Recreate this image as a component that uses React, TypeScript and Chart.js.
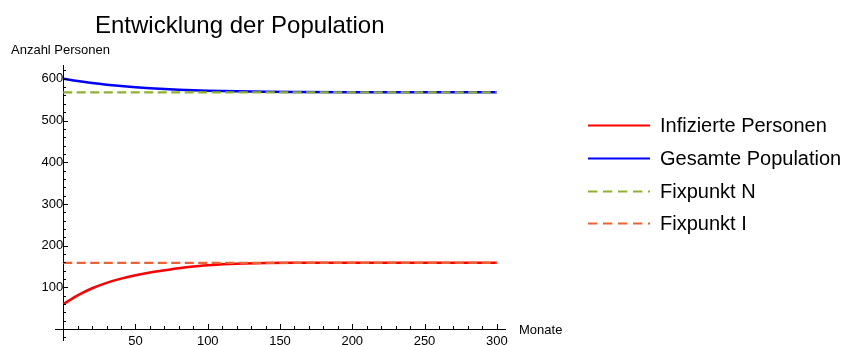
import React, { useEffect, useRef } from "react";
import { Chart, registerables } from "chart.js";

Chart.register(...registerables);

// ---- data ----
const months = [0, 10, 20, 30, 40, 50, 60, 70, 80, 90, 100, 110, 120, 140, 160, 200, 250, 300];
const infected = [60, 81, 98, 111, 121, 129, 135.5, 141, 146, 150, 153, 155.5, 157, 158.5, 159, 159, 159, 159];
const total = [600, 594.5, 589.8, 585.8, 582.4, 579.6, 577.3, 575.4, 573.8, 572.5, 571.4, 570.5, 569.8, 568.8, 568.2, 567.7, 567.5, 567.5];
const fixpointMonths = [0, 300];
const fixpointN = [567.5, 567.5];
const fixpointI = [159, 159];
const seriesLabels = ["Infizierte Personen", "Gesamte Population", "Fixpunkt N", "Fixpunkt I"];
const xTickValues = [50, 100, 150, 200, 250, 300];
const yTickValues = [100, 200, 300, 400, 500, 600];
const chartTitle = "Entwicklung der Population";
const yAxisTitle = "Anzahl Personen";
const xAxisTitle = "Monate";

const FONT = "'Liberation Sans', Arial, sans-serif";

const toPoints = (xs: number[], ys: number[]) => xs.map((x, i) => ({ x, y: ys[i] }));

const zeroPadding = (s: any) => {
  s.paddingTop = 0;
  s.paddingBottom = 0;
  s.paddingLeft = 0;
  s.paddingRight = 0;
};

const decorPlugin = {
  id: "decor",
  afterDraw(chart: any) {
    const ctx = chart.ctx as CanvasRenderingContext2D;
    const xs = chart.scales.x;
    const ys = chart.scales.y;
    const x0 = xs.getPixelForValue(0);
    const y0 = ys.getPixelForValue(0);
    ctx.save();
    ctx.strokeStyle = "#000";
    ctx.lineWidth = 1;
    // x ticks (inward, upward)
    for (let v = Math.ceil(xs.min / 10) * 10; v <= xs.max; v += 10) {
      if (v === 0) continue;
      const px = Math.round(xs.getPixelForValue(v)) + 0.5;
      const len = v % 50 === 0 ? 5 : 3;
      ctx.beginPath();
      ctx.moveTo(px, Math.round(y0));
      ctx.lineTo(px, Math.round(y0) - len);
      ctx.stroke();
    }
    // y ticks (inward, to the right)
    for (let v = Math.ceil(ys.min / 20) * 20; v <= ys.max; v += 20) {
      if (v === 0) continue;
      const py = Math.round(ys.getPixelForValue(v)) + 0.5;
      const len = v % 100 === 0 ? 5 : 3;
      ctx.beginPath();
      ctx.moveTo(Math.round(x0), py);
      ctx.lineTo(Math.round(x0) + len, py);
      ctx.stroke();
    }
    // texts
    ctx.fillStyle = "#000";
    ctx.textBaseline = "alphabetic";
    ctx.textAlign = "left";
    ctx.font = `24px ${FONT}`;
    ctx.fillText(chartTitle, 95, 33);
    ctx.font = `13px ${FONT}`;
    ctx.fillText(yAxisTitle, 11, 54);
    ctx.fillText(xAxisTitle, 519, 334);
    // legend
    const ds = chart.data.datasets;
    ctx.font = `20px ${FONT}`;
    ds.forEach((d: any, i: number) => {
      const base = 132.3 + i * 32.6;
      const ly = Math.round(base - 7) + 0.5;
      ctx.save();
      ctx.strokeStyle = d.borderColor;
      ctx.lineWidth = 2.2;
      ctx.setLineDash(d.borderDash && d.borderDash.length ? [9.3, 5.7] : []);
      ctx.beginPath();
      ctx.moveTo(588, ly);
      ctx.lineTo(650, ly);
      ctx.stroke();
      ctx.restore();
      ctx.fillStyle = "#000";
      ctx.fillText(d.label, 660, base);
    });
    ctx.restore();
  },
};

export default function App() {
  const ref = useRef<HTMLCanvasElement>(null);
  useEffect(() => {
    if (!ref.current) return;
    const chart = new Chart(ref.current, {
      type: "line",
      data: {
        datasets: [
          {
            label: seriesLabels[0],
            data: toPoints(months, infected),
            borderColor: "#FF0000",
            borderWidth: 2.5,
            cubicInterpolationMode: "monotone",
            order: 4,
          },
          {
            label: seriesLabels[1],
            data: toPoints(months, total),
            borderColor: "#0000FF",
            borderWidth: 2.5,
            cubicInterpolationMode: "monotone",
            order: 3,
          },
          {
            label: seriesLabels[2],
            data: toPoints(fixpointMonths, fixpointN),
            borderColor: "#8FB131",
            borderWidth: 2.2,
            borderDash: [9, 4.5],
            order: 2,
          },
          {
            label: seriesLabels[3],
            data: toPoints(fixpointMonths, fixpointI),
            borderColor: "#EB6235",
            borderWidth: 2.2,
            borderDash: [9, 4.5],
            order: 1,
          },
        ],
      } as any,
      options: {
        responsive: false,
        animation: false,
        events: [],
        layout: { padding: { left: 55, right: 336, top: 65, bottom: 5 } },
        elements: { point: { radius: 0 } },
        plugins: {
          legend: { display: false },
          title: { display: false },
          tooltip: { enabled: false },
        },
        scales: {
          x: {
            type: "linear",
            min: -5.7,
            max: 305.7,
            position: { y: 0 } as any,
            afterBuildTicks: (s: any) => {
              s.ticks = xTickValues.map((v) => ({ value: v }));
            },
            afterFit: (s: any) => {
              s.height = 0;
              zeroPadding(s);
            },
            ticks: {
              color: "#000",
              font: { family: FONT, size: 13 },
              padding: 4,
              maxRotation: 0,
              autoSkip: false,
            },
            grid: { display: true, drawOnChartArea: false, drawTicks: false },
            border: { display: true, color: "#000", width: 1 },
          },
          y: {
            type: "linear",
            min: -26,
            max: 633,
            position: { x: 0 } as any,
            afterBuildTicks: (s: any) => {
              s.ticks = yTickValues.map((v) => ({ value: v }));
            },
            afterFit: (s: any) => {
              s.width = 0;
              zeroPadding(s);
            },
            ticks: {
              color: "#000",
              font: { family: FONT, size: 13 },
              padding: 11,
              autoSkip: false,
            },
            grid: { display: true, drawOnChartArea: false, drawTicks: false },
            border: { display: true, color: "#000", width: 1 },
          },
        },
      } as any,
      plugins: [decorPlugin],
    });
    return () => chart.destroy();
  }, []);
  return (
    <div style={{ position: "fixed", left: 0, top: 0, width: 841, height: 345, background: "#fff" }}>
      <canvas ref={ref} width={841} height={345} style={{ display: "block" }} />
    </div>
  );
}
